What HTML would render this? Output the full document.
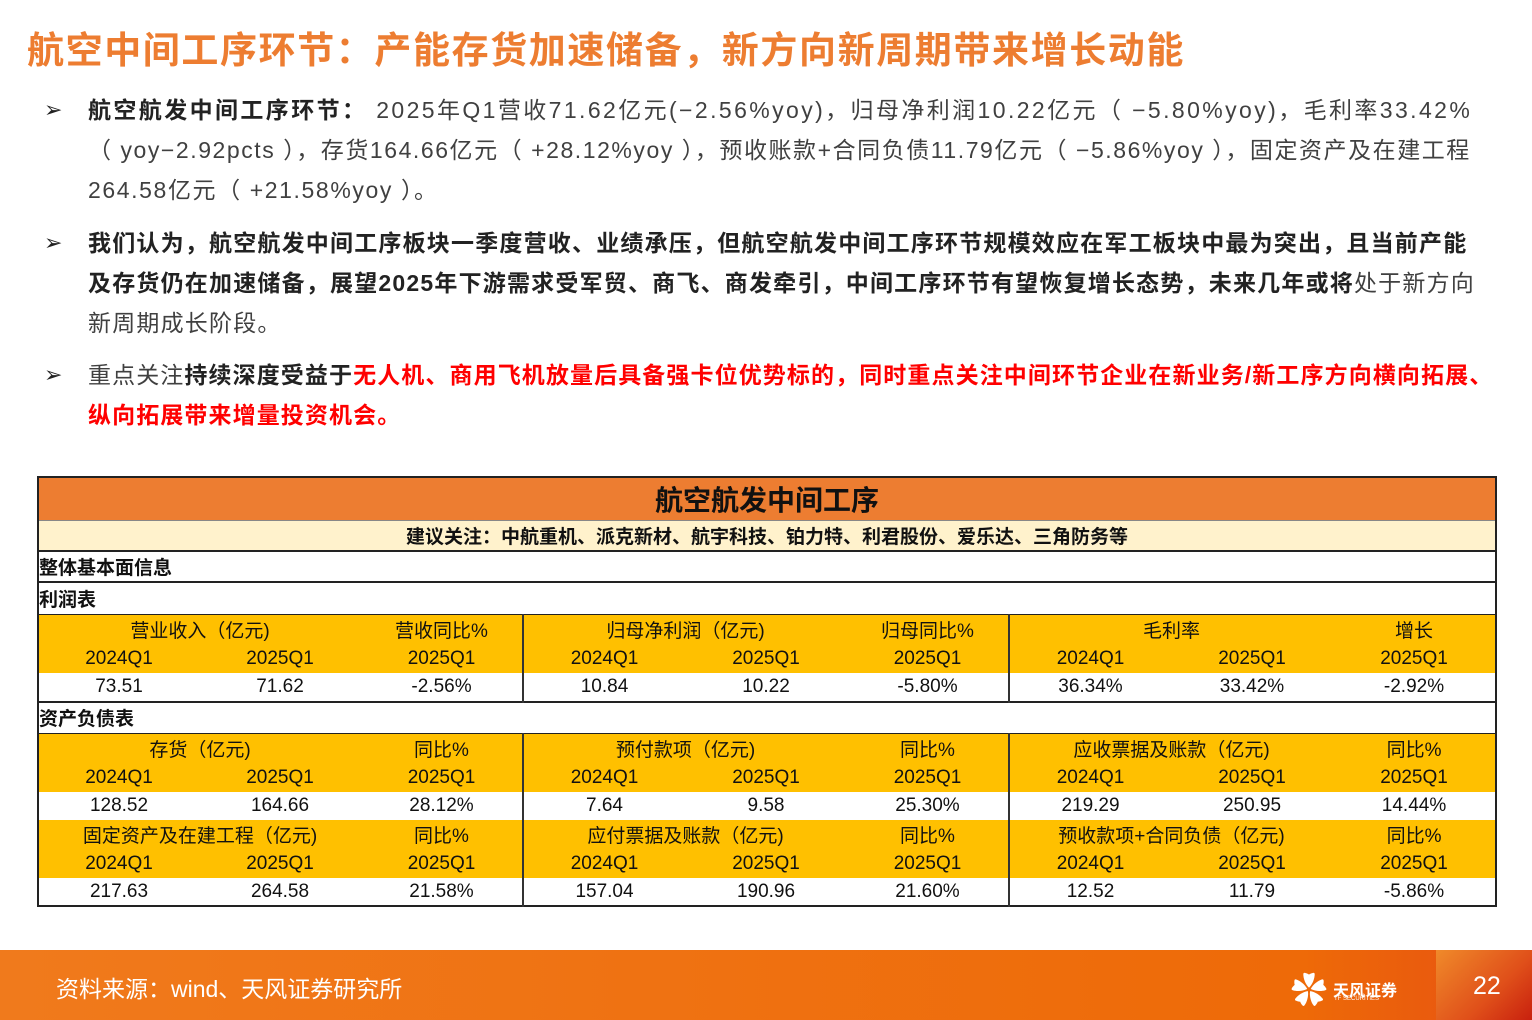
<!DOCTYPE html>
<html><head><meta charset="utf-8"><style>
body{margin:0;width:1532px;height:1020px;position:relative;background:#fff;font-family:"Liberation Sans","Noto Sans CJK SC",sans-serif;overflow:hidden}
.a{position:absolute}
.title{left:27px;top:20px;font-size:37px;font-weight:bold;color:#ED7D31;white-space:nowrap;letter-spacing:1.6px}
.bl{left:44px;font-size:22px;color:#222}
.p{left:88px;width:1440px;font-size:23px;line-height:40px;color:#404040;white-space:nowrap}
.b{font-weight:bold;color:#222}
.r{color:#FF0000;font-weight:bold}
table{position:absolute;left:37px;top:476px;width:1458px;border-collapse:collapse;table-layout:fixed;font-size:19px;color:#111}
td{padding:0;text-align:center;white-space:nowrap;overflow:hidden}
.y td{background:#FFC000}
.thick{border-right:2px solid #333}
.foot{left:0;top:950px;width:1532px;height:70px;background:linear-gradient(90deg,#F07A1C,#EE6A08 85%,#E65012)}
</style></head><body>
<div class="a title">航空中间工序环节：产能存货加速储备，新方向新周期带来增长动能</div>
<div class="a bl" style="top:97px">➢</div>
<div class="a p" style="top:90px"><span style="letter-spacing:2.4px"><span class="b">航空航发中间工序环节：</span> 2025年Q1营收71.62亿元(−2.56%yoy)，归母净利润10.22亿元（ −5.80%yoy)，毛利率33.42%</span><br><span style="letter-spacing:1.55px">（ yoy−2.92pcts ），存货164.66亿元（ +28.12%yoy ），预收账款+合同负债11.79亿元（ −5.86%yoy ），固定资产及在建工程</span><br><span style="letter-spacing:1.6px">264.58亿元（ +21.58%yoy ）。</span></div>
<div class="a bl" style="top:230px">➢</div>
<div class="a p" style="top:223px;letter-spacing:1.2px"><span class="b">我们认为，航空航发中间工序板块一季度营收、业绩承压，但航空航发中间工序环节规模效应在军工板块中最为突出，且当前产能<br>及存货仍在加速储备，展望2025年下游需求受军贸、商飞、商发牵引，中间工序环节有望恢复增长态势，未来几年或将</span>处于新方向<br>新周期成长阶段。</div>
<div class="a bl" style="top:362px">➢</div>
<div class="a p" style="top:355px;letter-spacing:1.1px">重点关注<span class="b">持续深度受益于</span><span class="r">无人机、商用飞机放量后具备强卡位优势标的，同时重点关注中间环节企业在新业务/新工序方向横向拓展、<br>纵向拓展带来增量投资机会。</span></div>

<table style="border:2px solid #222">
<colgroup><col style="width:161px"><col style="width:162px"><col style="width:162px"><col style="width:162px"><col style="width:162px"><col style="width:162px"><col style="width:162px"><col style="width:162px"><col style="width:163px"></colgroup>
<tr style="height:43px"><td colspan="9" style="background:#ED7D31;font-size:28px;font-weight:bold;border-bottom:1px solid #888">航空航发中间工序</td></tr>
<tr style="height:31px"><td colspan="9" style="background:#FFF2CC;font-weight:bold;font-size:19px;border-bottom:2px solid #222">建议关注：中航重机、派克新材、航宇科技、铂力特、利君股份、爱乐达、三角防务等</td></tr>
<tr style="height:31px"><td colspan="9" style="text-align:left;font-weight:bold;border-bottom:2px solid #222">整体基本面信息</td></tr>
<tr style="height:32px"><td colspan="9" style="text-align:left;font-weight:bold;border-bottom:1px solid #222">利润表</td></tr>
<tr class="y" style="height:30px"><td colspan="2">营业收入（亿元)</td><td class="thick">营收同比%</td><td colspan="2">归母净利润（亿元)</td><td class="thick">归母同比%</td><td colspan="2">毛利率</td><td>增长</td></tr>
<tr class="y" style="height:29px"><td>2024Q1</td><td>2025Q1</td><td class="thick">2025Q1</td><td>2024Q1</td><td>2025Q1</td><td class="thick">2025Q1</td><td>2024Q1</td><td>2025Q1</td><td>2025Q1</td></tr>
<tr style="height:29px;border-bottom:2px solid #222"><td>73.51</td><td>71.62</td><td class="thick">-2.56%</td><td>10.84</td><td>10.22</td><td class="thick">-5.80%</td><td>36.34%</td><td>33.42%</td><td>-2.92%</td></tr>
<tr style="height:31px"><td colspan="9" style="text-align:left;font-weight:bold;border-bottom:1px solid #222">资产负债表</td></tr>
<tr class="y" style="height:30px"><td colspan="2">存货（亿元)</td><td class="thick">同比%</td><td colspan="2">预付款项（亿元)</td><td class="thick">同比%</td><td colspan="2">应收票据及账款（亿元)</td><td>同比%</td></tr>
<tr class="y" style="height:29px"><td>2024Q1</td><td>2025Q1</td><td class="thick">2025Q1</td><td>2024Q1</td><td>2025Q1</td><td class="thick">2025Q1</td><td>2024Q1</td><td>2025Q1</td><td>2025Q1</td></tr>
<tr style="height:28px"><td>128.52</td><td>164.66</td><td class="thick">28.12%</td><td>7.64</td><td>9.58</td><td class="thick">25.30%</td><td>219.29</td><td>250.95</td><td>14.44%</td></tr>
<tr class="y" style="height:29px"><td colspan="2">固定资产及在建工程（亿元)</td><td class="thick">同比%</td><td colspan="2">应付票据及账款（亿元)</td><td class="thick">同比%</td><td colspan="2">预收款项+合同负债（亿元)</td><td>同比%</td></tr>
<tr class="y" style="height:29px"><td>2024Q1</td><td>2025Q1</td><td class="thick">2025Q1</td><td>2024Q1</td><td>2025Q1</td><td class="thick">2025Q1</td><td>2024Q1</td><td>2025Q1</td><td>2025Q1</td></tr>
<tr style="height:28px"><td>217.63</td><td>264.58</td><td class="thick">21.58%</td><td>157.04</td><td>190.96</td><td class="thick">21.60%</td><td>12.52</td><td>11.79</td><td>-5.86%</td></tr>
</table>

<div class="a foot"></div>
<div class="a" style="left:1436px;top:950px;width:96px;height:70px;background:linear-gradient(135deg,#F08A2A,#E0501A 60%,#C8200E)"></div>
<div class="a" style="left:56px;top:970px;font-size:23px;color:#fff">资料来源：wind、天风证券研究所</div>
<div class="a" style="left:1291px;top:962px;font-size:36px;color:#fff">✿</div>
<div class="a" style="left:1333px;top:977px;font-size:16px;font-weight:bold;color:#fff">天风证券</div>
<div class="a" style="left:1334px;top:996px;font-size:6px;color:#fff">TF SECURITIES</div>
<div class="a" style="left:1473px;top:972px;font-size:25px;color:#fff">22</div>
</body></html>
